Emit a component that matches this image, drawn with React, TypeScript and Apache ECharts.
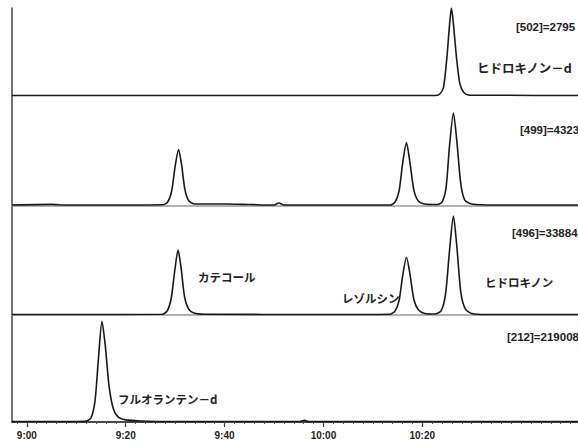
import React, { useEffect, useRef } from "react";
import * as echarts from "echarts";

// retention time in seconds (9:00 = 540 s)
const majorTicks = [540, 560, 580, 600, 620];
const minorTicks = Array.from({ length: 61 }, (_, i) => 538 + i * 2);

// panel 1: m/z 502 (ヒドロキノン-d)
const trace502: [number, number][] = [
  [537, 0.5], [600, 0.5], [622.5, 0.5], [623.5, 2], [624.3, 10], [625, 45], [625.5, 80], [625.9, 100],
  [626.3, 82], [626.9, 45], [627.6, 14], [628.4, 4], [629.5, 1], [660, 0.5],
];
// panel 2: m/z 499
const trace499: [number, number][] = [
  [537, 1], [545, 1.6], [548, 1], [560, 1], [567.5, 1.2], [568.5, 4], [569.3, 15], [570, 40], [570.7, 57],
  [571.3, 42], [572, 16], [572.8, 5], [574, 2], [580, 2], [585, 1.5], [590, 1], [591, 3], [592, 1],
  [605, 1], [613.5, 1], [614.5, 4], [615.3, 15], [616, 42], [616.8, 64], [617.5, 44], [618.3, 16],
  [619.2, 5], [620.5, 2], [623, 1.5], [624, 4], [624.8, 18], [625.5, 60], [626.3, 94], [627, 65],
  [627.8, 22], [628.6, 6], [630, 2], [635, 1], [660, 1],
];
// panel 3: m/z 496
const trace496: [number, number][] = [
  [537, 0.5], [550, 0.5], [567.4, 0.8], [568.4, 4], [569.2, 16], [569.9, 42], [570.6, 63], [571.2, 46],
  [571.9, 18], [572.7, 6], [573.8, 2], [576, 0.8], [600, 0.5], [613.5, 0.8], [614.5, 4], [615.3, 14],
  [616, 37], [616.8, 56], [617.5, 40], [618.3, 15], [619.2, 5], [620.5, 1.5], [622.5, 1], [623.8, 4],
  [624.7, 20], [625.5, 62], [626.3, 96], [627, 66], [627.8, 22], [628.7, 6], [630, 1.5], [633, 0.5],
  [660, 0.5],
];
// panel 4: m/z 212 (フルオランテン-d)
const trace212: [number, number][] = [
  [537, 0.5], [550, 0.5], [552, 0.8], [553, 4], [553.8, 20], [554.5, 60], [555.2, 94], [555.9, 70],
  [556.6, 35], [557.4, 14], [558.4, 5], [560, 2], [563, 1], [570, 0.5], [595, 0.5], [596.2, 1.5],
  [597, 0.5], [660, 0.5],
];

const ionLabels = ["[502]=2795", "[499]=4323", "[496]=33884", "[212]=219008"];
const compoundLabels = ["ヒドロキノン－d", "カテコール", "レゾルシン", "ヒドロキノン", "フルオランテン－d"];

const T_MIN = 537;
const T_MAX = 660;

const fmt = (v: number) => `${Math.floor(v / 60)}:${String(Math.round(v % 60)).padStart(2, "0")}`;

export default function App() {
  const ref = useRef<HTMLDivElement>(null);
  useEffect(() => {
    if (!ref.current) return;
    const chart = echarts.init(ref.current, undefined, { renderer: "svg" });
    const L = 12;
    const R = 20;
    const grids = [
      { left: L, right: R, top: 8, height: 414 }, // frame
      { left: L, right: R, top: 8, height: 88 },
      { left: L, right: R, top: 107, height: 99 },
      { left: L, right: R, top: 212, height: 103 },
      { left: L, right: R, top: 315, height: 107 },
    ];
    const traces = [trace502, trace499, trace496, trace212];
    const xAxes: any[] = [];
    const yAxes: any[] = [];
    // frame axes
    xAxes.push({
      gridIndex: 0, type: "value", min: T_MIN, max: T_MAX, position: "top",
      axisLine: { show: true, lineStyle: { color: "#666", width: 1.5 } },
      axisTick: { show: false }, axisLabel: { show: false }, splitLine: { show: false },
    });
    yAxes.push({
      gridIndex: 0, type: "value", min: 0, max: 100, position: "left",
      axisLine: { show: true, lineStyle: { color: "#444", width: 1.5 } },
      axisTick: { show: false }, axisLabel: { show: false }, splitLine: { show: false },
    });
    for (let i = 1; i <= 4; i++) {
      xAxes.push({
        gridIndex: i, type: "value", min: T_MIN, max: T_MAX, position: "top",
        axisLine: { show: i === 2 || i === 3, lineStyle: { color: "#999", width: 1.5 } },
        axisTick: { show: false }, axisLabel: { show: false }, splitLine: { show: false },
      });
      yAxes.push({ gridIndex: i, type: "value", min: 0, max: 100, show: false });
    }
    // bottom axis (major ticks + labels)
    xAxes.push({
      gridIndex: 4, type: "value", min: T_MIN, max: T_MAX, position: "bottom",
      axisLine: { show: true, lineStyle: { color: "#333", width: 1.5 } },
      axisTick: { show: true, inside: false, length: 5, customValues: majorTicks, lineStyle: { color: "#333", width: 1.2 } },
      axisLabel: {
        show: true, customValues: majorTicks, formatter: (v: number) => fmt(v), margin: 8,
        fontSize: 10, fontWeight: "bold", color: "#222", fontFamily: "Liberation Sans",
      },
      splitLine: { show: false },
    });
    // bottom axis (minor ticks)
    xAxes.push({
      gridIndex: 4, type: "value", min: T_MIN, max: T_MAX, position: "bottom",
      axisLine: { show: false },
      axisTick: { show: true, inside: false, length: 2, customValues: minorTicks, lineStyle: { color: "#555", width: 1 } },
      axisLabel: { show: false }, splitLine: { show: false },
    });

    const series = traces.map((data, k) => ({
      type: "line",
      xAxisIndex: k + 1,
      yAxisIndex: k + 1,
      data,
      showSymbol: false,
      smooth: 0.25,
      clip: false,
      lineStyle: { color: "#1a1a1a", width: 1.6 },
    }));

    const ionPos = [
      [516, 27], [520, 130], [512, 233], [507, 337],
    ];
    const compPos = [
      [477, 67], [198, 277], [342, 298], [485, 282], [118, 399],
    ];
    const graphic: any[] = [];
    ionLabels.forEach((t, i) => {
      graphic.push({
        type: "text", x: ionPos[i][0], y: ionPos[i][1],
        style: {
          text: t, fill: "#222", fontSize: 11.5, fontWeight: "bold", fontFamily: "Liberation Sans",
          verticalAlign: "middle", align: "left",
        },
      });
    });
    const compSizes = [12.5, 11.5, 11.5, 11.5, 11.5];
    compoundLabels.forEach((t, i) => {
      graphic.push({
        type: "text", x: compPos[i][0], y: compPos[i][1],
        style: {
          text: t, fill: "#222", fontSize: compSizes[i], fontWeight: "bold", fontFamily: "Noto Sans CJK JP",
          verticalAlign: "middle", align: "left",
        },
      });
    });

    chart.setOption({
      animation: false,
      backgroundColor: "#ffffff",
      grid: grids,
      xAxis: xAxes,
      yAxis: yAxes,
      series,
      graphic,
    });
    return () => chart.dispose();
  }, []);
  return (
    <div style={{ position: "fixed", left: 0, top: 0, width: 578, height: 445, overflow: "hidden", background: "#fff" }}>
      <div ref={ref} style={{ position: "absolute", left: 0, top: 0, width: 640, height: 445 }} />
    </div>
  );
}
